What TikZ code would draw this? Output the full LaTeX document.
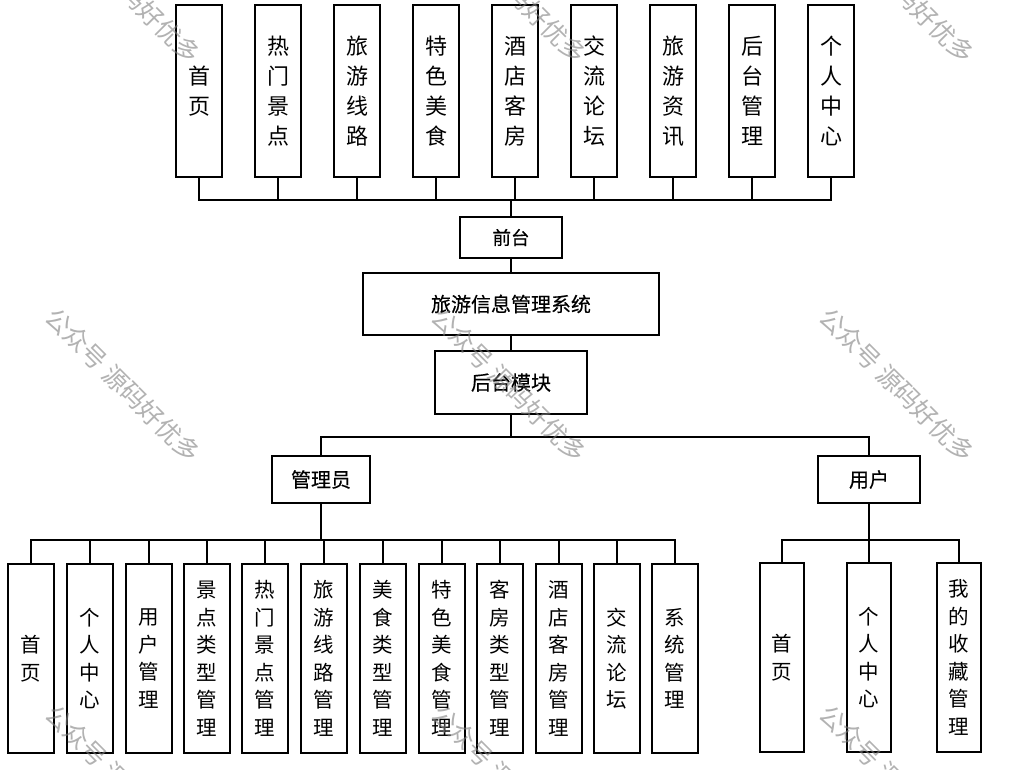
\documentclass[tikz,border=0pt]{standalone}
\usepackage{fontspec}
\setmainfont{Noto Sans CJK SC}
\newfontfamily\titlefont[FakeBold=0.35]{Noto Sans CJK SC}
\tikzset{
  topbox/.style={draw,fill=white,line width=1.4pt,minimum width=46pt,minimum height=172pt,inner sep=0pt,align=center,font=\fontsize{22}{30}\selectfont},
  subbox/.style={draw,fill=white,line width=1.4pt,minimum width=46pt,minimum height=189pt,inner sep=0pt,align=center,font=\fontsize{20.5}{27.5}\selectfont},
  titlebox/.style={draw,fill=white,line width=1.4pt,inner sep=0pt,font=\titlefont\fontsize{20}{24}\selectfont},
  link/.style={line width=1.4pt},
  watermark/.style={rotate=-45,text=gray,opacity=0.6,inner sep=0pt,font=\fontsize{25}{28}\selectfont},
}
\begin{document}
\begin{tikzpicture}[x=1pt,y=-1pt]
  \useasboundingbox[fill=white] (0,0) rectangle (1024,770);

  % top row
  \node[topbox] (shouye)  at (199,91) {首\\页};
  \node[topbox] (jingdian) at (278,91) {热\\门\\景\\点};
  \node[topbox] (xianlu)  at (357,91) {旅\\游\\线\\路};
  \node[topbox] (meishi)  at (436,91) {特\\色\\美\\食};
  \node[topbox] (kefang)  at (515,91) {酒\\店\\客\\房};
  \node[topbox] (luntan)  at (594,91) {交\\流\\论\\坛};
  \node[topbox] (zixun)   at (673,91) {旅\\游\\资\\讯};
  \node[topbox] (houtai)  at (752,91) {后\\台\\管\\理};
  \node[topbox] (geren)   at (831,91) {个\\人\\中\\心};

  % middle
  \node[titlebox,minimum width=102pt,minimum height=41pt,font=\titlefont\fontsize{18.5}{24}\selectfont] (qiantai) at (511,237.5) {前台};
  \node[titlebox,minimum width=296pt,minimum height=62pt] (xitong) at (511,304) {旅游信息管理系统};
  \node[titlebox,minimum width=152pt,minimum height=63pt] (mokuai) at (511,382.5) {后台模块};
  \node[titlebox,minimum width=98pt,minimum height=47pt] (admin) at (321,479.5) {管理员};
  \node[titlebox,minimum width=102pt,minimum height=47pt] (user) at (869,479.5) {用户};

  % admin row
  \node[subbox] (a1)  at (31,658.5)  {首\\页};
  \node[subbox] (a2)  at (90,658.5)  {个\\人\\中\\心};
  \node[subbox] (a3)  at (149,658.5) {用\\户\\管\\理};
  \node[subbox] (a4)  at (207,658.5) {景\\点\\类\\型\\管\\理};
  \node[subbox] (a5)  at (265,658.5) {热\\门\\景\\点\\管\\理};
  \node[subbox] (a6)  at (324,658.5) {旅\\游\\线\\路\\管\\理};
  \node[subbox] (a7)  at (383,658.5) {美\\食\\类\\型\\管\\理};
  \node[subbox] (a8)  at (442,658.5) {特\\色\\美\\食\\管\\理};
  \node[subbox] (a9)  at (500,658.5) {客\\房\\类\\型\\管\\理};
  \node[subbox] (a10) at (559,658.5) {酒\\店\\客\\房\\管\\理};
  \node[subbox] (a11) at (617,658.5) {交\\流\\论\\坛};
  \node[subbox] (a12) at (675,658.5) {系\\统\\管\\理};

  % user row
  \node[subbox,minimum width=44pt] (u1) at (782,657.5) {首\\页};
  \node[subbox,minimum width=44pt] (u2) at (869,657.5) {个\\人\\中\\心};
  \node[subbox,minimum width=44pt] (u3) at (959,657.5) {我\\的\\收\\藏\\管\\理};

  \coordinate (topbus) at (511,200);
  \coordinate (midbus) at (511,437);
  \coordinate (adminbus) at (321,540);
  \coordinate (userbus) at (869,540);

  \draw[link] (shouye.south) |- (topbus);
  \draw[link] (jingdian.south) |- (topbus);
  \draw[link] (xianlu.south) |- (topbus);
  \draw[link] (meishi.south) |- (topbus);
  \draw[link] (kefang.south) |- (topbus);
  \draw[link] (luntan.south) |- (topbus);
  \draw[link] (zixun.south) |- (topbus);
  \draw[link] (houtai.south) |- (topbus);
  \draw[link] (geren.south) |- (topbus);
  \draw[link] (topbus) -- (qiantai.north);
  \draw[link] (qiantai.south) -- (xitong.north);
  \draw[link] (xitong.south) -- (mokuai.north);
  \draw[link] (mokuai.south) -- (midbus);
  \draw[link] (admin.north) |- (midbus);
  \draw[link] (user.north) |- (midbus);

  \draw[line width=2.6pt] (admin.south) -- (adminbus);
  \draw[link] (a1.north) |- (adminbus);
  \draw[link] (a2.north) |- (adminbus);
  \draw[link] (a3.north) |- (adminbus);
  \draw[link] (a4.north) |- (adminbus);
  \draw[link] (a5.north) |- (adminbus);
  \draw[link] (a6.north) |- (adminbus);
  \draw[link] (a7.north) |- (adminbus);
  \draw[link] (a8.north) |- (adminbus);
  \draw[link] (a9.north) |- (adminbus);
  \draw[link] (a10.north) |- (adminbus);
  \draw[link] (a11.north) |- (adminbus);
  \draw[link] (a12.north) |- (adminbus);

  \draw[link] (user.south) -- (userbus);
  \draw[link] (u1.north) |- (userbus);
  \draw[link] (u2.north) -- (userbus);
  \draw[link] (u3.north) |- (userbus);

  % watermarks
  \node[watermark] (wm1) at (123,-14) {公众号 源码好优多};
  \node[watermark] (wm2) at (509,-14) {公众号 源码好优多};
  \node[watermark] (wm3) at (897,-14) {公众号 源码好优多};
  \node[watermark] (wm4) at (123,385) {公众号 源码好优多};
  \node[watermark] (wm5) at (509,385) {公众号 源码好优多};
  \node[watermark] (wm6) at (897,385) {公众号 源码好优多};
  \node[watermark] (wm7) at (123,782) {公众号 源码好优多};
  \node[watermark] (wm8) at (509,782) {公众号 源码好优多};
  \node[watermark] (wm9) at (897,782) {公众号 源码好优多};
\end{tikzpicture}
\end{document}
